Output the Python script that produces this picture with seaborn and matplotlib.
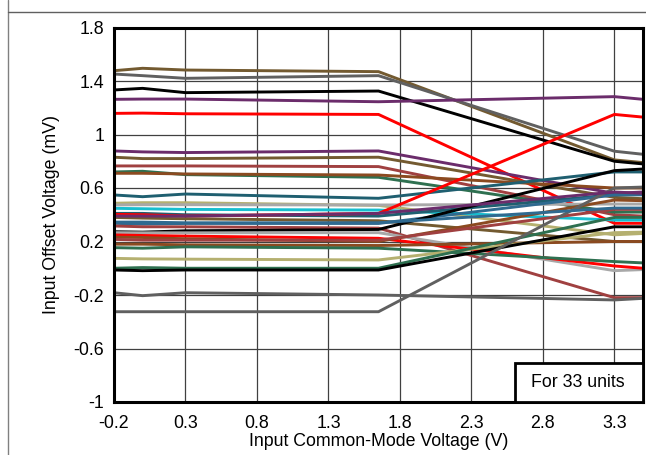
import matplotlib
matplotlib.use("Agg")
import matplotlib.pyplot as plt
import matplotlib.lines as mlines
import matplotlib.patches as mpatches
import seaborn as sns
import pandas as pd

# Input common-mode voltage sample points (V)
vcm = [-0.2, 0.0, 0.3, 1.65, 3.3, 3.5]

# Offset voltage (mV) per unit
unit_values = {
    "u01": [1.477, 1.495, 1.482, 1.470, 0.810, 0.790],
    "u02": [1.452, 1.440, 1.420, 1.440, 0.875, 0.852],
    "u03": [1.333, 1.345, 1.313, 1.325, 0.800, 0.780],
    "u04": [1.263, 1.265, 1.265, 1.245, 1.283, 1.263],
    "u05": [1.158, 1.160, 1.155, 1.150, 0.336, 0.336],
    "u06": [0.877, 0.870, 0.865, 0.877, 0.560, 0.570],
    "u07": [0.830, 0.820, 0.820, 0.830, 0.530, 0.520],
    "u08": [0.765, 0.765, 0.765, 0.760, 0.400, 0.390],
    "u09": [0.720, 0.725, 0.700, 0.680, 0.420, 0.420],
    "u10": [0.710, 0.710, 0.705, 0.697, 0.600, 0.600],
    "u11": [0.548, 0.535, 0.555, 0.523, 0.720, 0.720],
    "u12": [0.486, 0.490, 0.490, 0.470, 0.250, 0.260],
    "u13": [0.473, 0.475, 0.475, 0.473, 0.480, 0.480],
    "u14": [0.448, 0.445, 0.440, 0.435, 0.360, 0.360],
    "u15": [0.410, 0.410, 0.400, 0.390, 0.550, 0.550],
    "u16": [0.403, 0.400, 0.390, 0.410, 1.150, 1.130],
    "u17": [0.380, 0.375, 0.370, 0.355, 0.200, 0.200],
    "u18": [0.336, 0.330, 0.335, 0.335, 0.548, 0.550],
    "u19": [0.316, 0.310, 0.310, 0.300, -0.220, -0.220],
    "u20": [0.273, 0.270, 0.280, 0.290, 0.730, 0.742],
    "u21": [0.266, 0.265, 0.265, 0.266, -0.018, -0.010],
    "u22": [0.249, 0.245, 0.240, 0.224, 0.017, 0.000],
    "u23": [0.232, 0.230, 0.220, 0.200, 0.510, 0.505],
    "u24": [0.216, 0.210, 0.210, 0.210, 0.440, 0.440],
    "u25": [0.180, 0.180, 0.175, 0.170, 0.200, 0.200],
    "u26": [0.154, 0.150, 0.160, 0.150, 0.050, 0.040],
    "u27": [0.074, 0.070, 0.068, 0.062, 0.266, 0.270],
    "u28": [0.000, 0.005, 0.000, 0.000, 0.380, 0.380],
    "u29": [-0.013, -0.018, -0.013, -0.013, 0.310, 0.310],
    "u30": [-0.183, -0.205, -0.183, -0.200, -0.237, -0.225],
    "u31": [-0.325, -0.325, -0.325, -0.325, 0.600, 0.607],
    "u32": [0.390, 0.390, 0.390, 0.410, 0.570, 0.560],
    "u33": [0.345, 0.345, 0.340, 0.340, 0.450, 0.450],
}

unit_colors = [
    "#735A30", "#606060", "#000000", "#6B2C6B", "#FF0000",
    "#6B2C6B", "#735A30", "#A04040", "#2E7050", "#8B4A20",
    "#1F5F70", "#B5B070", "#A8A8A8", "#17BECF", "#1F5F70",
    "#FF0000", "#735A30", "#2F6A90", "#A04040", "#000000",
    "#A8A8A8", "#FF0000", "#8B4A20", "#A04040", "#8B4A20",
    "#2E7050", "#B5B070", "#2E7050", "#000000", "#606060",
    "#606060", "#6B2C6B", "#2F6A90",
]

x_ticks = [-0.2, 0.3, 0.8, 1.3, 1.8, 2.3, 2.8, 3.3]
y_ticks = [-1, -0.6, -0.2, 0.2, 0.6, 1, 1.4, 1.8]
y_tick_labels = ["-1", "-0.6", "-0.2", "0.2", "0.6", "1", "1.4", "1.8"]

rows = []
for name, vals in unit_values.items():
    for x, v in zip(vcm, vals):
        rows.append({"unit": name, "vcm": x, "vos": v})
df = pd.DataFrame(rows)

sns.set_theme(style="white")
plt.rcParams["font.family"] = ["Liberation Sans", "DejaVu Sans"]

FS = 12.8

fig = plt.figure(figsize=(6.46, 4.55), dpi=100)
ax = fig.add_axes([114 / 646, 1 - 402 / 455, 529 / 646, 374.5 / 455])

sns.lineplot(data=df, x="vcm", y="vos", hue="unit", palette=unit_colors,
             legend=False, linewidth=2.1, ax=ax, zorder=3)

ax.set_xlim(-0.2, 3.5)
ax.set_ylim(-1, 1.8)
ax.set_xticks(x_ticks)
ax.set_xticklabels([f"{t:g}" for t in x_ticks], fontsize=FS)
ax.set_yticks(y_ticks)
ax.set_yticklabels(y_tick_labels, fontsize=FS)
ax.tick_params(axis="x", length=0, pad=9, colors="black")
ax.tick_params(axis="y", length=0, pad=7, colors="black")
ax.grid(True, color="#404040", linewidth=0.9, zorder=0)
ax.set_axisbelow(True)
for sp in ax.spines.values():
    sp.set_color("black")
    sp.set_linewidth(2.2)
    sp.set_zorder(5)

ax.set_xlabel("Input Common-Mode Voltage (V)", fontsize=FS, labelpad=1, color="black")
ax.set_ylabel("Input Offset Voltage (mV)", fontsize=FS, labelpad=10, color="black")

# annotation box
box = mpatches.Rectangle((0.758, 0.0), 0.242, 0.104, transform=ax.transAxes,
                         facecolor="white", edgecolor="black", linewidth=2.0, zorder=6,
                         clip_on=False)
ax.add_patch(box)
ax.text(0.876, 0.052, "For 33 units", transform=ax.transAxes, ha="center", va="center",
        fontsize=FS, color="black", zorder=7)

# outer frame lines
fig.add_artist(mlines.Line2D([8 / 646, 8 / 646], [0, 1], color="#808080", linewidth=1.0))
fig.add_artist(mlines.Line2D([8 / 646, 1], [1 - 11.5 / 455, 1 - 11.5 / 455],
                             color="#606060", linewidth=1.0))

fig.savefig("out.png", dpi=100)
